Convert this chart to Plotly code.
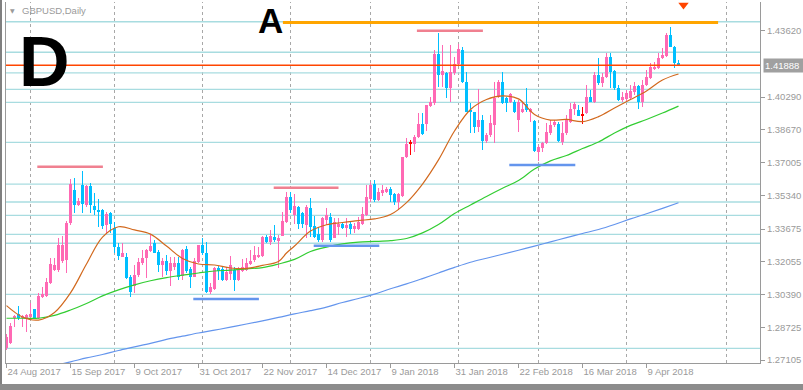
import plotly.graph_objects as go

# ---------------- data ----------------
tick_bars = [0, 16, 32, 48, 64, 80, 96, 112, 128, 144, 160]
tick_labels = ["24 Aug 2017", "15 Sep 2017", "9 Oct 2017", "31 Oct 2017", "22 Nov 2017",
               "14 Dec 2017", "9 Jan 2018", "31 Jan 2018", "22 Feb 2018", "16 Mar 2018", "9 Apr 2018"]
month_start_bars = [6, 27, 49, 71, 91, 113, 133, 155, 180]
price_ticks = [1.43620, 1.40290, 1.38670, 1.37005, 1.35340, 1.33675, 1.32055, 1.30390, 1.28725, 1.27105]

opens = [1.2771, 1.2798, 1.2921, 1.2941, 1.2919, 1.2921, 1.2928, 1.2964, 1.2921, 1.3029,
         1.3032, 1.3099, 1.3162, 1.3162, 1.3209, 1.3212, 1.3398, 1.3563, 1.3488, 1.3588,
         1.3488, 1.3583, 1.3483, 1.3465, 1.3463, 1.3388, 1.3446, 1.3371, 1.3276, 1.3229,
         1.3226, 1.3125, 1.3082, 1.3137, 1.3199, 1.3221, 1.3259, 1.3296, 1.3254, 1.3187,
         1.3209, 1.3158, 1.3179, 1.3199, 1.3132, 1.3266, 1.3165, 1.3128, 1.3204, 1.3287,
         1.3246, 1.3053, 1.3065, 1.3170, 1.3165, 1.3112, 1.3142, 1.3162, 1.3112, 1.3158,
         1.3162, 1.3192, 1.3212, 1.3226, 1.3232, 1.3326, 1.3304, 1.3326, 1.3312, 1.3332,
         1.3404, 1.3530, 1.3438, 1.3479, 1.3446, 1.3388, 1.3474, 1.3383, 1.3341, 1.3312,
         1.3413, 1.3429, 1.3321, 1.3379, 1.3391, 1.3374, 1.3391, 1.3368, 1.3368, 1.3391,
         1.3438, 1.3518, 1.3592, 1.3513, 1.3547, 1.3555, 1.3568, 1.3542, 1.3504, 1.3535,
         1.3730, 1.3797, 1.3792, 1.3830, 1.3893, 1.3893, 1.3986, 1.3998, 1.4244, 1.4140,
         1.4148, 1.4073, 1.4148, 1.4194, 1.4265, 1.4106, 1.3964, 1.3953, 1.3881, 1.3914,
         1.3809, 1.3839, 1.3889, 1.4031, 1.4106, 1.4023, 1.4003, 1.4003, 1.3914, 1.3953,
         1.3993, 1.3956, 1.3909, 1.3755, 1.3775, 1.3797, 1.3848, 1.3889, 1.3893, 1.3805,
         1.3848, 1.3906, 1.3969, 1.3964, 1.3939, 1.3948, 1.4031, 1.4003, 1.4140, 1.4098,
         1.4131, 1.4232, 1.4160, 1.4076, 1.4015, 1.4020, 1.4023, 1.4056, 1.4085, 1.4003,
         1.4090, 1.4123, 1.4168, 1.4173, 1.4224, 1.4237, 1.4340, 1.4282, 1.4199]
highs = [1.2841, 1.2896, 1.2934, 1.2981, 1.2936, 1.2939, 1.2998, 1.2966, 1.3045, 1.3077,
         1.3122, 1.3224, 1.3224, 1.3321, 1.3332, 1.3408, 1.3618, 1.3622, 1.3523, 1.3658,
         1.3588, 1.3597, 1.3547, 1.3517, 1.3468, 1.3454, 1.3454, 1.3404, 1.3296, 1.3296,
         1.3246, 1.3137, 1.3187, 1.3222, 1.3262, 1.3267, 1.3337, 1.3312, 1.3262, 1.3221,
         1.3237, 1.3229, 1.3226, 1.3226, 1.3267, 1.3282, 1.3179, 1.3221, 1.3287, 1.3321,
         1.3304, 1.3095, 1.3179, 1.3182, 1.3182, 1.3179, 1.3232, 1.3179, 1.3179, 1.3216,
         1.3221, 1.3262, 1.3282, 1.3279, 1.3332, 1.3337, 1.3363, 1.3388, 1.3337, 1.3454,
         1.3555, 1.3555, 1.3542, 1.3483, 1.3454, 1.3488, 1.3522, 1.3434, 1.3379, 1.3429,
         1.3471, 1.3446, 1.3421, 1.3424, 1.3404, 1.3421, 1.3404, 1.3396, 1.3429, 1.3479,
         1.3588, 1.3605, 1.3613, 1.3572, 1.3588, 1.3578, 1.3580, 1.3547, 1.3547, 1.3730,
         1.3822, 1.3814, 1.3839, 1.3948, 1.3948, 1.3989, 1.4031, 1.4265, 1.4349, 1.4290,
         1.4155, 1.4290, 1.4232, 1.4294, 1.4282, 1.4153, 1.3998, 1.3956, 1.4070, 1.3939,
         1.3848, 1.3939, 1.4106, 1.4115, 1.4153, 1.4031, 1.4048, 1.4015, 1.4015, 1.3998,
         1.4076, 1.3973, 1.3914, 1.3789, 1.3805, 1.3898, 1.3914, 1.3914, 1.3906, 1.3906,
         1.3939, 1.3998, 1.4003, 1.3989, 1.3981, 1.4090, 1.4065, 1.4156, 1.4224, 1.4148,
         1.4249, 1.4249, 1.4165, 1.4090, 1.4056, 1.4065, 1.4090, 1.4106, 1.4090, 1.4115,
         1.4165, 1.4199, 1.4207, 1.4249, 1.4274, 1.4349, 1.4382, 1.4287, 1.4215]
lows = [1.2761, 1.2793, 1.2874, 1.2911, 1.2878, 1.2849, 1.2911, 1.2916, 1.2916, 1.3022,
        1.3027, 1.3092, 1.3157, 1.3153, 1.3197, 1.3148, 1.3388, 1.3449, 1.3483, 1.3449,
        1.3479, 1.3449, 1.3438, 1.3379, 1.3368, 1.3342, 1.3349, 1.3249, 1.3212, 1.3227,
        1.3115, 1.3028, 1.3045, 1.3128, 1.3187, 1.3120, 1.3254, 1.3246, 1.3153, 1.3128,
        1.3137, 1.3082, 1.3162, 1.3112, 1.3112, 1.3148, 1.3070, 1.3125, 1.3199, 1.3237,
        1.3048, 1.3042, 1.3062, 1.3112, 1.3108, 1.3108, 1.3112, 1.3058, 1.3108, 1.3153,
        1.3158, 1.3187, 1.3204, 1.3221, 1.3229, 1.3299, 1.3287, 1.3304, 1.3170, 1.3332,
        1.3399, 1.3446, 1.3391, 1.3368, 1.3374, 1.3321, 1.3329, 1.3321, 1.3304, 1.3304,
        1.3388, 1.3304, 1.3321, 1.3337, 1.3368, 1.3329, 1.3341, 1.3346, 1.3363, 1.3388,
        1.3434, 1.3504, 1.3504, 1.3508, 1.3535, 1.3547, 1.3504, 1.3488, 1.3463, 1.3530,
        1.3722, 1.3739, 1.3755, 1.3822, 1.3839, 1.3859, 1.3981, 1.3989, 1.4081, 1.4081,
        1.4026, 1.4003, 1.4140, 1.4190, 1.4098, 1.3953, 1.3848, 1.3848, 1.3856, 1.3764,
        1.3797, 1.3830, 1.3797, 1.4023, 1.3993, 1.3956, 1.3998, 1.3949, 1.3856, 1.3948,
        1.3956, 1.3906, 1.3755, 1.3710, 1.3752, 1.3792, 1.3839, 1.3881, 1.3805, 1.3789,
        1.3839, 1.3898, 1.3939, 1.3936, 1.3893, 1.3943, 1.4003, 1.3998, 1.4090, 1.4081,
        1.4123, 1.4076, 1.4065, 1.4009, 1.4006, 1.4006, 1.4015, 1.4040, 1.3968, 1.3981,
        1.4086, 1.4120, 1.4165, 1.4170, 1.4220, 1.4232, 1.4279, 1.4173, 1.4187]
closes = [1.2826, 1.2881, 1.2931, 1.2921, 1.2931, 1.2934, 1.2940, 1.2921, 1.3032, 1.3042,
          1.3102, 1.3190, 1.3187, 1.3287, 1.3287, 1.3399, 1.3593, 1.3488, 1.3509, 1.3493,
          1.3583, 1.3488, 1.3463, 1.3454, 1.3383, 1.3443, 1.3393, 1.3276, 1.3232, 1.3246,
          1.3120, 1.3053, 1.3137, 1.3204, 1.3224, 1.3262, 1.3282, 1.3249, 1.3187, 1.3209,
          1.3158, 1.3196, 1.3199, 1.3125, 1.3262, 1.3158, 1.3125, 1.3209, 1.3287, 1.3246,
          1.3053, 1.3075, 1.3170, 1.3158, 1.3112, 1.3153, 1.3187, 1.3112, 1.3165, 1.3176,
          1.3199, 1.3209, 1.3237, 1.3237, 1.3329, 1.3304, 1.3332, 1.3312, 1.3321, 1.3409,
          1.3530, 1.3463, 1.3483, 1.3391, 1.3391, 1.3479, 1.3379, 1.3329, 1.3312, 1.3421,
          1.3438, 1.3312, 1.3404, 1.3391, 1.3371, 1.3388, 1.3368, 1.3384, 1.3401, 1.3441,
          1.3530, 1.3588, 1.3513, 1.3555, 1.3563, 1.3568, 1.3538, 1.3504, 1.3542, 1.3730,
          1.3792, 1.3797, 1.3830, 1.3893, 1.3842, 1.3989, 1.4003, 1.4244, 1.4140, 1.4160,
          1.4073, 1.4153, 1.4194, 1.4269, 1.4106, 1.3956, 1.3953, 1.3881, 1.3914, 1.3809,
          1.3839, 1.3898, 1.4023, 1.4106, 1.3998, 1.3998, 1.4043, 1.3956, 1.4003, 1.3969,
          1.3964, 1.3968, 1.3759, 1.3780, 1.3797, 1.3856, 1.3889, 1.3906, 1.3809, 1.3848,
          1.3914, 1.3969, 1.3993, 1.3936, 1.3939, 1.4031, 1.4003, 1.4140, 1.4098, 1.4131,
          1.4232, 1.4156, 1.4073, 1.4015, 1.4031, 1.4048, 1.4060, 1.4085, 1.4003, 1.4090,
          1.4131, 1.4182, 1.4182, 1.4227, 1.4240, 1.4340, 1.4282, 1.4202, 1.41888]

ma_fast_bars = [0, 4, 8, 12, 16, 20, 24, 28, 32, 36, 40, 44, 48, 52, 56, 60, 64, 68, 70, 72, 76, 80,
                84, 88, 92, 96, 100, 104, 108, 112, 116, 120, 124, 128, 132, 136, 140, 144, 148,
                152, 156, 160, 164, 168]
ma_fast = [1.2983, 1.2926, 1.2911, 1.2949, 1.3047, 1.3192, 1.3327, 1.3379, 1.3363, 1.3342, 1.3282,
           1.3220, 1.3192, 1.3187, 1.3172, 1.3170, 1.3185, 1.3205, 1.3247, 1.3282, 1.3357, 1.3389,
           1.3400, 1.3410, 1.3418, 1.3440, 1.3500, 1.3593, 1.3714, 1.3859, 1.3967, 1.4017, 1.4035,
           1.4020, 1.3942, 1.3914, 1.3917, 1.3906, 1.3931, 1.3974, 1.4017, 1.4060, 1.4115, 1.4145]
ma_mid_bars = [0, 4, 8, 12, 16, 20, 24, 28, 32, 36, 40, 44, 48, 52, 56, 60, 64, 68, 72, 76, 80, 84,
               88, 92, 96, 100, 104, 108, 112, 116, 120, 124, 128, 132, 136, 140, 144, 148, 152,
               156, 160, 164, 168]
ma_mid = [1.2920, 1.2920, 1.2920, 1.2934, 1.2961, 1.2994, 1.3032, 1.3062, 1.3087, 1.3108, 1.3124,
          1.3136, 1.3147, 1.3157, 1.3161, 1.3168, 1.3174, 1.3192, 1.3215, 1.3255, 1.3277, 1.3293,
          1.3302, 1.3305, 1.3309, 1.3320, 1.3348, 1.3390, 1.3445, 1.3488, 1.3531, 1.3572, 1.3611,
          1.3668, 1.3709, 1.3736, 1.3771, 1.3804, 1.3849, 1.3887, 1.3917, 1.3949, 1.3984]
ma_slow_bars = [12, 16, 20, 24, 28, 32, 36, 40, 44, 48, 52, 56, 60, 64, 68, 72, 76, 80, 84, 88, 92,
                96, 100, 104, 108, 112, 116, 120, 124, 128, 132, 136, 140, 144, 148, 152, 156, 160,
                164, 168]
ma_slow = [1.2683, 1.2701, 1.2721, 1.2738, 1.2758, 1.2776, 1.2794, 1.2814, 1.2830, 1.2846, 1.2860,
           1.2875, 1.2891, 1.2907, 1.2924, 1.2942, 1.2958, 1.2976, 1.2999, 1.3019, 1.3041, 1.3068,
           1.3092, 1.3119, 1.3147, 1.3175, 1.3201, 1.3221, 1.3241, 1.3261, 1.3282, 1.3303, 1.3324,
           1.3345, 1.3365, 1.3390, 1.3418, 1.3444, 1.3471, 1.3499]

level_lines = [1.4407, 1.4254, 1.4151, 1.4068, 1.4003, 1.3802, 1.3593, 1.3503, 1.3436, 1.3341,
               1.3296, 1.3040, 1.2769]
current_price = 1.41888
resistance_segments = [(7.7, 24.1, 1.3680), (66.8, 83.0, 1.3575), (102.6, 119.1, 1.4362)]
support_segments = [(46.7, 63.1, 1.3017), (76.8, 93.2, 1.3284), (125.7, 142.2, 1.3689)]
level_a = (69.1, 177.9, 1.4403)
alert_marker = (169.25, 1.4491)

# ---------------- styling ----------------
BULL = "#FF69B4"
BEAR = "#00BFFF"
DOJI = "#FF0000"
GRAY = "#9A9A9A"
FONT = "Liberation Sans"

W, H = 803, 390
ML, MR, MT, MB = 6, 43, 2, 27
PW = W - ML - MR
PH = H - MT - MB


def px_x(px):
    return (px - ML) / PW


def px_y(py):
    return (H - MB - py) / PH


fig = go.Figure()
n = len(opens)
bars = list(range(n))
colors = []
body_base, body_h = [], []
for o, c in zip(opens, closes):
    if c > o:
        colors.append(BULL)
    elif c < o:
        colors.append(BEAR)
    else:
        colors.append(DOJI)
    if abs(c - o) < 1e-9:
        body_base.append(o - 0.00025)
        body_h.append(0.0005)
    else:
        body_base.append(min(o, c))
        body_h.append(abs(c - o))

fig.add_trace(go.Bar(x=bars, y=[h - l for h, l in zip(highs, lows)], base=lows, width=0.25,
                     marker=dict(color=colors, line=dict(width=0)), hoverinfo="skip"))
fig.add_trace(go.Bar(x=bars, y=body_h, base=body_base, width=0.75,
                     marker=dict(color=colors, line=dict(width=0)), hoverinfo="skip"))

fig.add_trace(go.Scatter(x=ma_slow_bars, y=ma_slow, mode="lines",
                         line=dict(color="#6495ED", width=1.2, shape="spline"), hoverinfo="skip"))
fig.add_trace(go.Scatter(x=ma_mid_bars, y=ma_mid, mode="lines",
                         line=dict(color="#32CD32", width=1.2, shape="spline"), hoverinfo="skip"))
fig.add_trace(go.Scatter(x=ma_fast_bars, y=ma_fast, mode="lines",
                         line=dict(color="#D2691E", width=1.2, shape="spline"), hoverinfo="skip"))
fig.add_trace(go.Scatter(x=[alert_marker[0]], y=[alert_marker[1]], mode="markers",
                         marker=dict(symbol="triangle-down", size=9, color="#FF4500"),
                         hoverinfo="skip", cliponaxis=False))

shapes = []
for b in month_start_bars:
    shapes.append(dict(type="line", xref="x", yref="paper", x0=b, x1=b, y0=0, y1=1,
                       line=dict(color="#A8A8A8", width=1, dash="3px,3px"), layer="below"))
for p in level_lines:
    shapes.append(dict(type="line", xref="paper", yref="y", x0=0, x1=1, y0=p, y1=p,
                       line=dict(color="#A8DCE0", width=1.3), layer="below"))
shapes.append(dict(type="line", xref="paper", yref="y", x0=0, x1=1, y0=current_price, y1=current_price,
                   line=dict(color="#FF4500", width=1.3), layer="above"))
for x0, x1, p in resistance_segments:
    shapes.append(dict(type="line", xref="x", yref="y", x0=x0, x1=x1, y0=p, y1=p,
                       line=dict(color="#F08090", width=2.5)))
for x0, x1, p in support_segments:
    shapes.append(dict(type="line", xref="x", yref="y", x0=x0, x1=x1, y0=p, y1=p,
                       line=dict(color="#6495ED", width=2.5)))
shapes.append(dict(type="line", xref="x", yref="y", x0=level_a[0], x1=level_a[1], y0=level_a[2], y1=level_a[2],
                   line=dict(color="#FFA500", width=3)))
# window frame
shapes.append(dict(type="line", xref="paper", yref="paper", x0=px_x(1), x1=px_x(1), y0=px_y(0), y1=px_y(384),
                   line=dict(color="#808080", width=2)))
shapes.append(dict(type="rect", xref="paper", yref="paper", x0=px_x(0), x1=px_x(803), y0=px_y(384), y1=px_y(390),
                   line=dict(width=0), fillcolor="#8C8C8C"))

annotations = [
    dict(text="<b>D</b>", xref="paper", yref="paper", x=px_x(44.5), y=px_y(62), xanchor="center",
         yanchor="middle", showarrow=False, font=dict(family=FONT, size=70, color="black")),
    dict(text="<b>A</b>", xref="paper", yref="paper", x=px_x(270.5), y=px_y(20.5), xanchor="center",
         yanchor="middle", showarrow=False, font=dict(family=FONT, size=35, color="black")),
    dict(text="GBPUSD,Daily", xref="paper", yref="paper", x=px_x(20), y=px_y(11), xanchor="left",
         yanchor="middle", showarrow=False, font=dict(family=FONT, size=9.5, color=GRAY)),
    dict(text="▼", xref="paper", yref="paper", x=px_x(12), y=px_y(11), xanchor="center",
         yanchor="middle", showarrow=False, font=dict(family="DejaVu Sans", size=6, color=GRAY)),
    dict(text=f"{current_price:.5f}", xref="paper", yref="y", x=px_x(762.5), y=current_price,
         xanchor="left", yanchor="middle", showarrow=False, bgcolor="#A0A0A0", borderpad=1,
         width=38, align="left", font=dict(family=FONT, size=9.5, color="white")),
]

fig.update_layout(
    width=W, height=H, margin=dict(l=ML, r=MR, t=MT, b=MB),
    plot_bgcolor="white", paper_bgcolor="white", showlegend=False,
    barmode="overlay", bargap=0,
    shapes=shapes, annotations=annotations,
    xaxis=dict(range=[-0.125, -0.125 + PW / 4], tickvals=tick_bars, ticktext=tick_labels,
               ticks="outside", ticklen=4, tickcolor=GRAY, showgrid=False, zeroline=False,
               showline=True, linecolor=GRAY, linewidth=1, ticklabelposition="outside right",
               tickfont=dict(family=FONT, size=9.5, color=GRAY), fixedrange=True),
    yaxis=dict(side="right", range=[1.26955, 1.45060], tickvals=price_ticks,
               ticktext=[f"{v:.5f}" for v in price_ticks], ticks="outside", ticklen=4,
               tickcolor=GRAY, showgrid=False, zeroline=False, showline=True, mirror=True,
               linecolor=GRAY, linewidth=1, tickfont=dict(family=FONT, size=9.5, color=GRAY),
               fixedrange=True),
)

fig.write_html("out.html", config={"displayModeBar": False},
               post_script="document.body.style.margin='0px';document.body.style.overflow='hidden';")
